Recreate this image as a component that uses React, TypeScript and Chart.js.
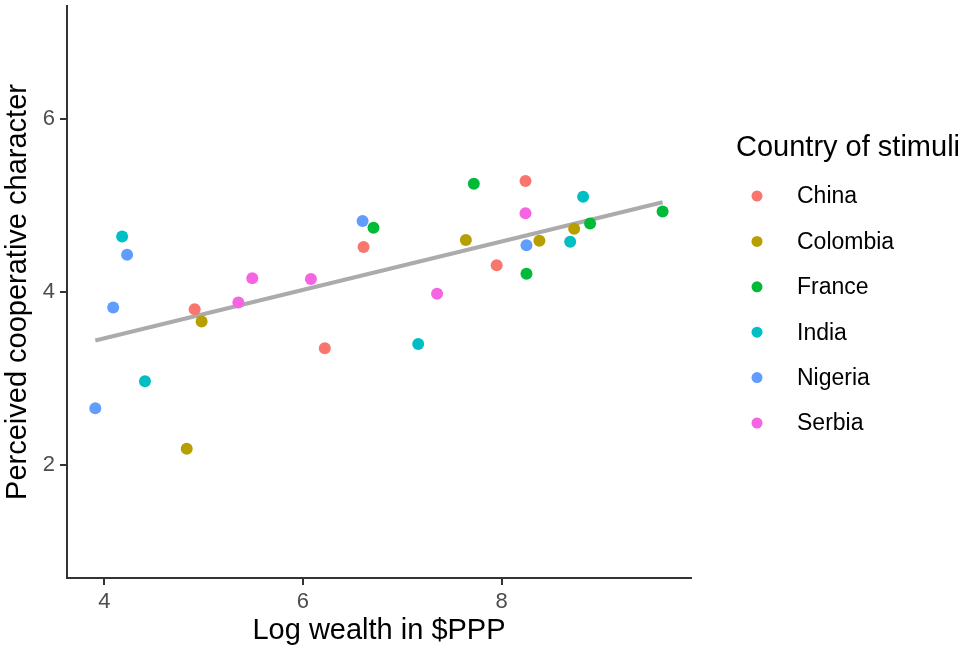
import React, { useEffect, useRef } from 'react';
import { Chart, registerables } from 'chart.js';

Chart.register(...registerables);

const FONT = '"Liberation Sans", Arial, Helvetica, sans-serif';

const countries = ['China', 'Colombia', 'France', 'India', 'Nigeria', 'Serbia'];
const colors = ['#F8766D', '#B79F00', '#00BA38', '#00BFC4', '#619CFF', '#F564E3'];

const chinaX = [4.91, 6.22, 6.61, 7.95, 8.24];
const chinaY = [3.80, 3.35, 4.52, 4.31, 5.28];
const colombiaX = [4.83, 4.98, 7.64, 8.38, 8.73];
const colombiaY = [2.19, 3.66, 4.60, 4.59, 4.73];
const franceX = [6.71, 7.72, 8.25, 8.89, 9.62];
const franceY = [4.74, 5.25, 4.21, 4.79, 4.93];
const indiaX = [4.18, 4.41, 7.16, 8.69, 8.82];
const indiaY = [4.64, 2.97, 3.40, 4.58, 5.10];
const nigeriaX = [3.91, 4.09, 4.23, 6.60, 8.25];
const nigeriaY = [2.66, 3.82, 4.43, 4.82, 4.54];
const serbiaX = [5.35, 5.49, 6.08, 7.35, 8.24];
const serbiaY = [3.88, 4.16, 4.15, 3.98, 4.91];

const fitX = [3.91, 9.62];
const fitY = [3.44, 5.035];

const xTicks = [4, 6, 8];
const yTicks = [2, 4, 6];

const xTitle = 'Log wealth in $PPP';
const yTitle = 'Perceived cooperative character';
const legendTitle = 'Country of stimuli';

const seriesX = [chinaX, colombiaX, franceX, indiaX, nigeriaX, serbiaX];
const seriesY = [chinaY, colombiaY, franceY, indiaY, nigeriaY, serbiaY];

const legendPlugin = {
  id: 'ggLegend',
  afterDraw(chart: any) {
    const ctx = chart.ctx as CanvasRenderingContext2D;
    ctx.save();
    ctx.textBaseline = 'middle';
    ctx.textAlign = 'left';
    ctx.fillStyle = '#000000';
    ctx.font = `29px ${FONT}`;
    ctx.fillText(legendTitle, 736, 148);
    countries.forEach((c, i) => {
      const y = 196 + i * 45.4;
      ctx.beginPath();
      ctx.arc(757, y, 5.5, 0, Math.PI * 2);
      ctx.fillStyle = colors[i];
      ctx.fill();
      ctx.fillStyle = '#000000';
      ctx.font = `23px ${FONT}`;
      ctx.fillText(c, 797, y + 1);
    });
    ctx.restore();
  },
};

export default function App() {
  const ref = useRef<HTMLCanvasElement | null>(null);

  useEffect(() => {
    if (!ref.current) return;
    const pointSets = countries.map((c, i) => ({
      label: c,
      data: seriesX[i].map((x, j) => ({ x, y: seriesY[i][j] })),
      backgroundColor: colors[i],
      borderWidth: 0,
      pointRadius: 6,
      pointHoverRadius: 6,
      showLine: false,
    }));
    const fitSet = {
      label: 'fit',
      data: fitX.map((x, j) => ({ x, y: fitY[j] })),
      showLine: true,
      borderColor: '#ABABAB',
      borderWidth: 4,
      pointRadius: 0,
      fill: false,
    };
    const tickFont = { size: 22, family: FONT };
    const titleFont = { size: 29, family: FONT };
    const chart = new Chart(ref.current, {
      type: 'scatter',
      data: { datasets: [...pointSets, fitSet] as any },
      options: {
        responsive: false,
        animation: false,
        devicePixelRatio: 1,
        events: [],
        layout: { padding: { top: 1.5, right: 272, bottom: 0, left: 0 } },
        plugins: { legend: { display: false }, tooltip: { enabled: false } },
        scales: {
          x: {
            type: 'linear',
            min: 3.625,
            max: 9.906,
            afterBuildTicks: (s: any) => {
              s.ticks = xTicks.map((v) => ({ value: v }));
            },
            afterFit: (s: any) => {
              s.height = 72;
              s.paddingLeft = 0;
              s.paddingRight = 0;
            },
            ticks: { font: tickFont, color: '#4D4D4D', padding: 4, maxRotation: 0 },
            grid: { drawOnChartArea: false, drawTicks: true, tickLength: 7, color: '#333333', lineWidth: 2 },
            border: { display: true, color: '#333333', width: 2 },
            title: { display: true, text: xTitle, font: titleFont, color: '#000000', padding: { top: 0, bottom: 2 } },
          },
          y: {
            type: 'linear',
            min: 0.7,
            max: 7.3,
            afterBuildTicks: (s: any) => {
              s.ticks = yTicks.map((v) => ({ value: v }));
            },
            afterFit: (s: any) => {
              s.width = 67;
              s.paddingTop = 0;
              s.paddingBottom = 0;
            },
            ticks: { font: tickFont, color: '#4D4D4D', padding: 5 },
            grid: { drawOnChartArea: false, drawTicks: true, tickLength: 7, color: '#333333', lineWidth: 2 },
            border: { display: true, color: '#333333', width: 2 },
            title: { display: true, text: yTitle, font: titleFont, color: '#000000', padding: { top: 1, bottom: 0 } },
          },
        },
      } as any,
      plugins: [legendPlugin],
    });
    return () => chart.destroy();
  }, []);

  return (
    <div style={{ position: 'absolute', left: 0, top: 0, width: 963, height: 650, background: '#ffffff' }}>
      <canvas ref={ref} width={963} height={650} style={{ display: 'block', width: 963, height: 650 }} />
    </div>
  );
}
